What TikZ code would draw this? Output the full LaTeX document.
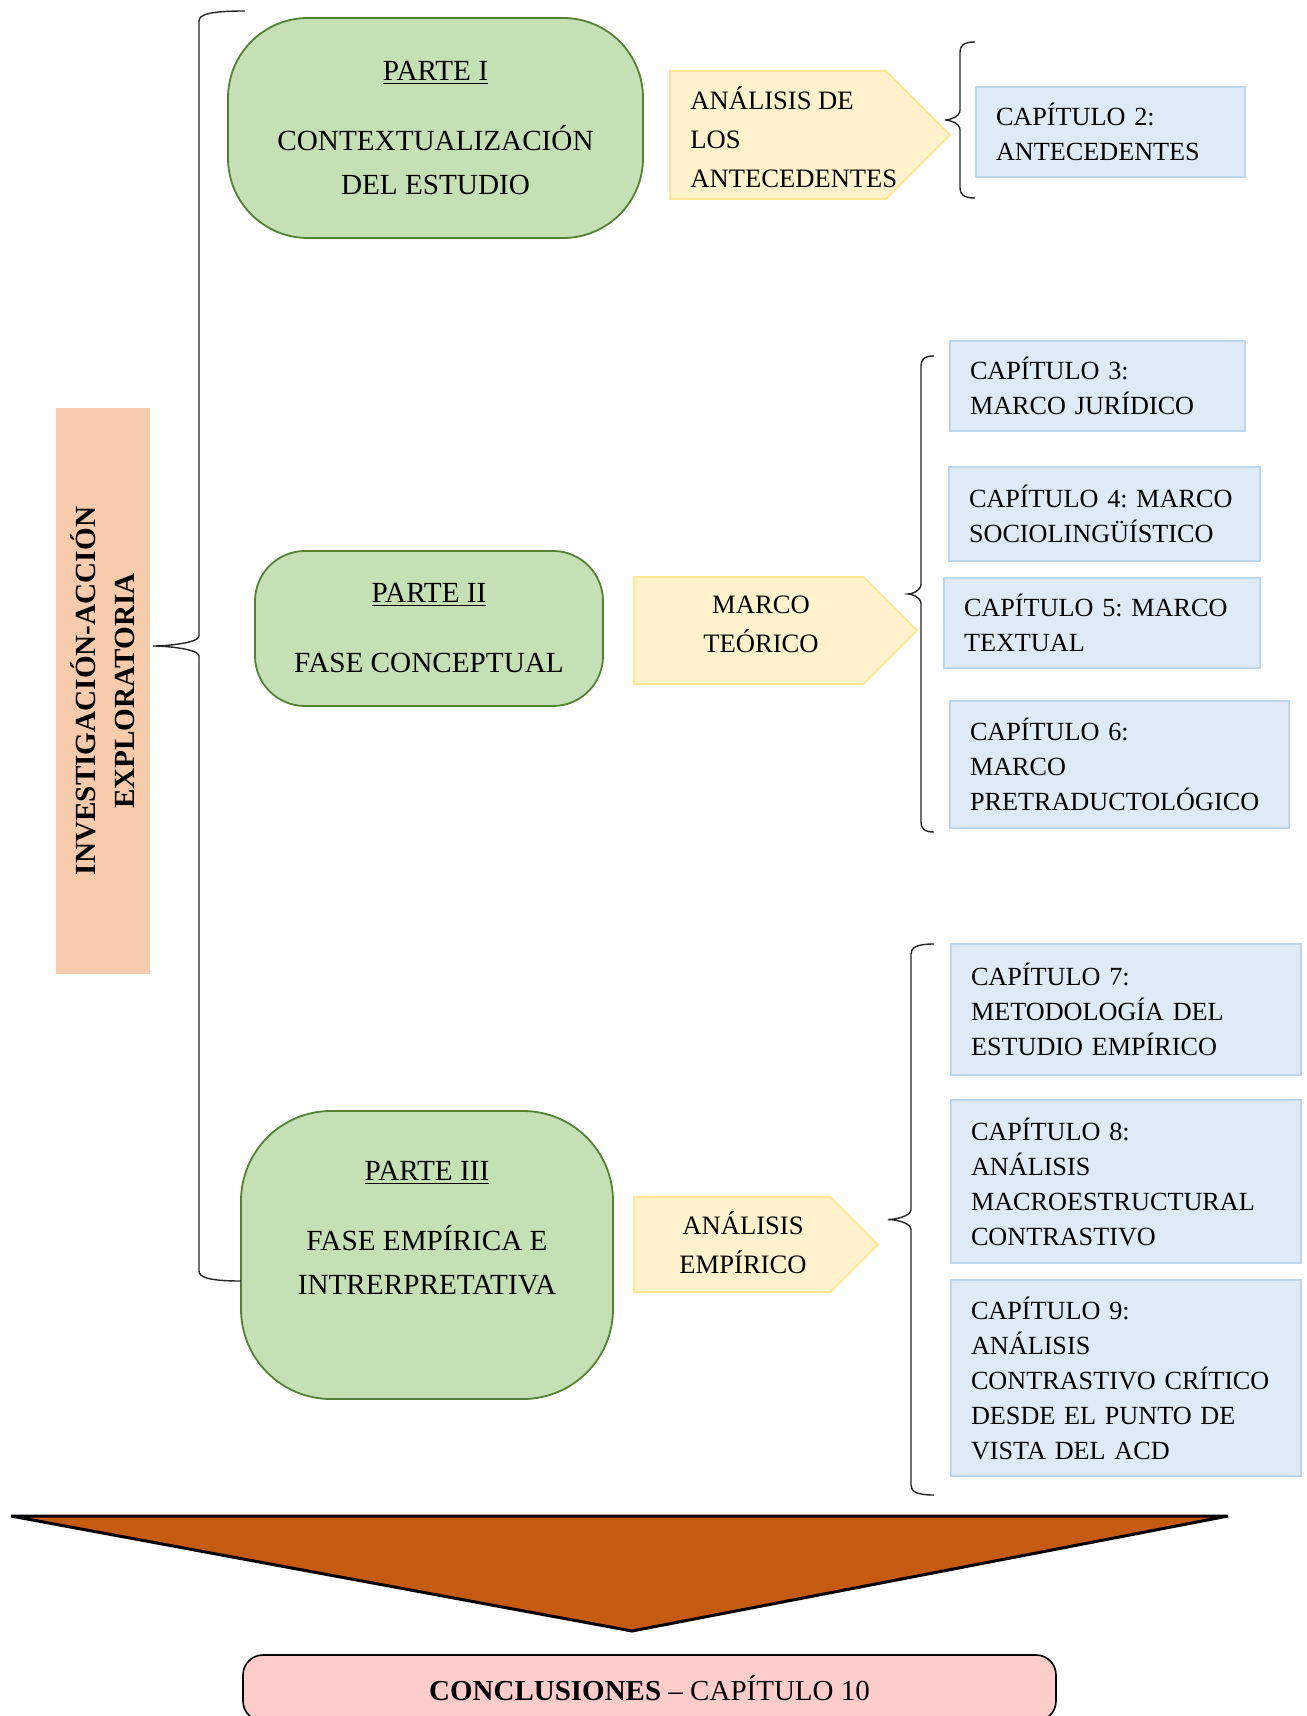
\documentclass[tikz,border=0pt]{standalone}
\usepackage{fontspec}
\setmainfont{Liberation Serif}
\usetikzlibrary{positioning,calc,shapes.symbols}

\definecolor{verdeF}{HTML}{C5E0B4}
\definecolor{verdeB}{HTML}{548235}
\definecolor{amarF}{HTML}{FFF2CC}
\definecolor{amarB}{HTML}{FFE699}
\definecolor{azulF}{HTML}{DEEBF7}
\definecolor{azulB}{HTML}{BDD7EE}
\definecolor{naranja}{HTML}{F8CBAD}
\definecolor{marron}{HTML}{C55A11}
\definecolor{rosa}{HTML}{FFCCCC}

\frenchspacing

\tikzset{
  parte/.style={draw=verdeB, fill=verdeF, line width=0.9pt, align=center,
    font=\fontsize{14.6}{22}\selectfont},
  rama/.style={shape=signal, signal to=east, draw=amarB, fill=amarF,
    line width=1pt, anchor=west, inner sep=0pt},
  ramatexto/.style={inner sep=0pt, font=\fontsize{13.3}{19.5}\selectfont},
  capitulo/.style={draw=azulB, fill=azulF, line width=1pt, anchor=north west,
    align=left, inner xsep=10pt, font=\fontsize{13.1}{17.5}\selectfont},
  llave/.style={draw=black!85, line width=0.7pt, to path={
    let \p1=(\tikztostart), \p2=(\tikztotarget), \p3=($(\p1)!.5!(\p2)$) in
    (\p1) .. controls (\x1-0.8*#1,\y1) and (\x1-#1,\y1-2pt) .. (\x1-#1,\y1-5pt)
    -- (\x1-#1,\y3+5pt) .. controls (\x1-#1,\y3+1.5pt) and (\x1-1.7*#1,\y3) .. (\x1-2*#1,\y3)
    .. controls (\x1-1.7*#1,\y3) and (\x1-#1,\y3-1.5pt) .. (\x1-#1,\y3-5pt)
    -- (\x1-#1,\y2+5pt) .. controls (\x1-#1,\y2+2pt) and (\x1-0.8*#1,\y2) .. (\p2)}}
}

\begin{document}
\begin{tikzpicture}[x=0.5pt, y=-0.5pt]
  \fill[white] (0,0) rectangle (1306,1716);
  \useasboundingbox (0,0) rectangle (1306,1716);

  % eje vertical
  \node[fill=naranja, rotate=90, minimum width=283pt, minimum height=47pt, align=center,
    font=\bfseries\fontsize{14.6}{19.5}\selectfont] (investigacion) at (103,691)
    {INVESTIGACIÓN-ACCIÓN\\ EXPLORATORIA};

  % partes
  \node[parte, minimum width=207.5pt, minimum height=110pt, rounded corners=40pt] (parte1) at (435.5,128)
    {\underline{PARTE I}\\[13pt] CONTEXTUALIZACIÓN\\ DEL ESTUDIO};
  \node[parte, minimum width=174pt, minimum height=77.5pt, rounded corners=25pt] (parte2) at (429,628.5)
    {\underline{PARTE II}\\[13pt] FASE CONCEPTUAL};
  \node[parte, minimum width=186pt, minimum height=144pt, rounded corners=45pt] (parte3) at (427,1255)
    {\underline{PARTE III}\\[13pt] FASE EMPÍRICA E\\ INTRERPRETATIVA\\[5pt]\mbox{}};

  % fases
  \node[rama, minimum width=140pt, minimum height=64pt] (antecedentes) at (669,135) {};
  \node[ramatexto, align=left, anchor=west] (antecedentesT) at ($(antecedentes.west)+(21,2)$)
    {ANÁLISIS DE\\ LOS\\ ANTECEDENTES};
  \node[rama, minimum width=141.5pt, minimum height=53.5pt] (teorico) at (633,630.5) {};
  \node[ramatexto, align=center] (teoricoT) at ($(teorico.west)+(128,-6)$)
    {MARCO\\ TEÓRICO};
  \node[rama, minimum width=122pt, minimum height=47.5pt] (empirico) at (633,1244.5) {};
  \node[ramatexto, align=center] (empiricoT) at ($(empirico.west)+(110,-2)$)
    {ANÁLISIS\\ EMPÍRICO};

  % capitulos
  \node[capitulo, text width=114.5pt, minimum height=45pt] (cap2) at (975,86)
    {CAPÍTULO 2:\\ ANTECEDENTES};
  \node[capitulo, text width=127.5pt, minimum height=45pt] (cap3) at (949,340)
    {CAPÍTULO 3:\\ MARCO JURÍDICO};
  \node[capitulo, text width=135.5pt, minimum height=47pt] (cap4) at (948,466)
    {CAPÍTULO 4: MARCO\\ SOCIOLINGÜÍSTICO};
  \node[capitulo, text width=138pt, minimum height=45pt] (cap5) at (943,577)
    {CAPÍTULO 5: MARCO\\ TEXTUAL};
  \node[capitulo, text width=149.5pt, minimum height=63.5pt] (cap6) at (949,700)
    {CAPÍTULO 6:\\ MARCO\\ PRETRADUCTOLÓGICO};
  \node[capitulo, text width=155pt, minimum height=65.5pt] (cap7) at (950,943)
    {CAPÍTULO 7:\\ METODOLOGÍA DEL\\ ESTUDIO EMPÍRICO};
  \node[capitulo, text width=155pt, minimum height=81.5pt] (cap8) at (950,1099)
    {CAPÍTULO 8:\\ ANÁLISIS\\ MACROESTRUCTURAL\\ CONTRASTIVO};
  \node[capitulo, text width=155pt, minimum height=98pt] (cap9) at (950,1279)
    {CAPÍTULO 9:\\ ANÁLISIS\\ CONTRASTIVO CRÍTICO\\ DESDE EL PUNTO DE\\ VISTA DEL ACD};

  % llaves
  \coordinate (llave0a) at (245,11);
  \coordinate (llave0b) at (241,1281);
  \coordinate (llave1a) at (975,42);
  \coordinate (llave1b) at (975,198);
  \coordinate (llave2a) at (934,356);
  \coordinate (llave2b) at (934,832);
  \coordinate (llave3a) at (934,944);
  \coordinate (llave3b) at (934,1495);
  \draw[llave=23pt] (llave0a) to (llave0b);
  \draw[llave=7.5pt] (llave1a) to (llave1b);
  \draw[llave=6.5pt] (llave2a) to (llave2b);
  \draw[llave=11.5pt] (llave3a) to (llave3b);

  % flecha final
  \coordinate (flechaI) at (11,1516);
  \coordinate (flechaD) at (1228,1516);
  \coordinate (flechaP) at (632,1631);
  \filldraw[fill=marron, draw=black, line width=1.5pt] (flechaI) -- (flechaD) -- (flechaP) -- cycle;

  \node[draw, line width=0.8pt, fill=rosa, rounded corners=10pt, minimum width=406.5pt,
    minimum height=33pt, font=\fontsize{14.5}{17}\selectfont] (conclusiones) at (649.5,1688)
    {\textbf{CONCLUSIONES} – CAPÍTULO 10};
\end{tikzpicture}
\end{document}
